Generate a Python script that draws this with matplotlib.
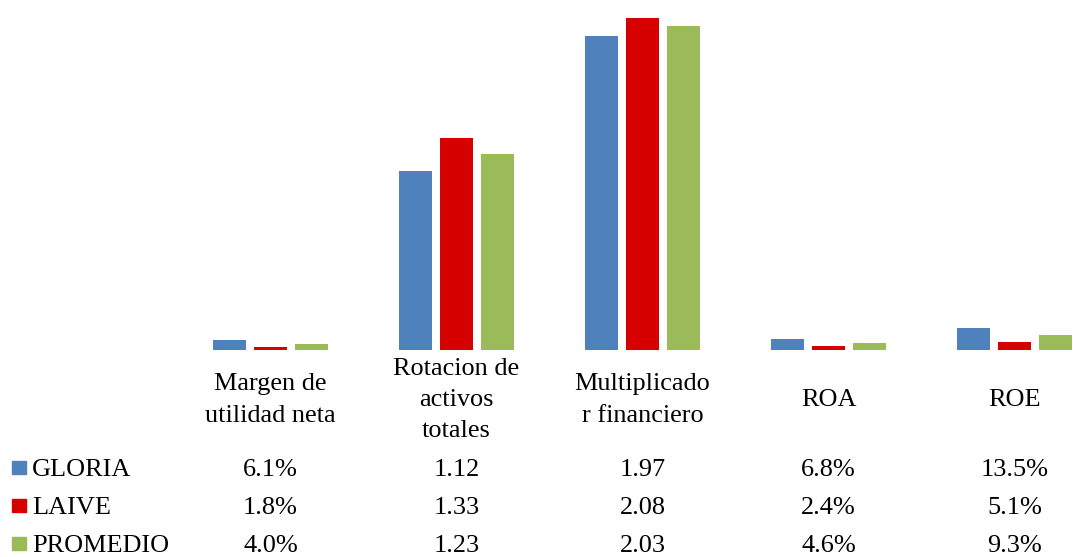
import matplotlib.pyplot as plt
import matplotlib.patches as mpatches
import numpy as np

plt.rcParams['font.family'] = ['Liberation Serif', 'DejaVu Serif']

categories = ['Margen de\nutilidad neta', 'Rotacion de\nactivos\ntotales',
              'Multiplicado\nr financiero', 'ROA', 'ROE']
series = ['GLORIA', 'LAIVE', 'PROMEDIO']
gloria = [0.061, 1.12, 1.97, 0.068, 0.135]
laive = [0.018, 1.33, 2.08, 0.024, 0.051]
promedio = [0.040, 1.23, 2.03, 0.046, 0.093]
table_text = [
    ['6.1%', '1.12', '1.97', '6.8%', '13.5%'],
    ['1.8%', '1.33', '2.08', '2.4%', '5.1%'],
    ['4.0%', '1.23', '2.03', '4.6%', '9.3%'],
]
colors = ['#4F81BD', '#D70000', '#9BBB59']

W, H = 1073, 557
fig = plt.figure(figsize=(W / 100, H / 100), dpi=100)
# plot area: top of figure down to the baseline at y=350 px
ax = fig.add_axes([0, (H - 350) / H, 1, 350 / H])
ax.axis('off')

x = np.arange(len(categories))
step = 41 / 186
width = 33 / 186
for i, vals in enumerate([gloria, laive, promedio]):
    ax.bar(x + (i - 1) * step, vals, width, color=colors[i], linewidth=0)

ax.set_xlim(-270.5 / 186, (W - 270.5) / 186)
ax.set_ylim(0, 350 / 159.6)

fs = 18.9
trans = ax.get_xaxis_transform()

def ay(ypix):
    # pixel row in the image -> axes y coordinate
    return (350 - ypix) / 350

for xi, lab in zip(x, categories):
    ax.text(xi, ay(400), lab, transform=trans, ha='center', va='center',
            fontsize=fs, linespacing=1.55, clip_on=False)

baselines = [476, 514, 552]
for r, (name, row) in enumerate(zip(series, table_text)):
    yb = baselines[r]
    fig.patches.append(mpatches.Rectangle((12 / W, (H - yb + 2) / H), 14 / W, 13 / H,
                                          transform=fig.transFigure, color=colors[r]))
    fig.text(32 / W, (H - yb) / H, name, fontsize=fs, va='baseline', ha='left')
    for xi, t in zip(x, row):
        ax.text(xi, ay(yb), t, transform=trans, ha='center', va='baseline',
                fontsize=fs, clip_on=False)

fig.savefig('out.png', dpi=100)
